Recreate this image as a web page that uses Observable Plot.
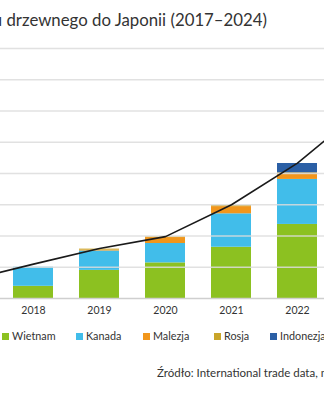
<!DOCTYPE html>
<html>
<head>
<meta charset="utf-8">
<script src="https://cdn.jsdelivr.net/npm/d3@7"></script>
<script src="https://cdn.jsdelivr.net/npm/@observablehq/plot@0.6"></script>
<style>
  html, body { margin: 0; padding: 0; background: #fff; }
  #wrap { position: relative; width: 324px; height: 400px; overflow: hidden; font-family: Lato, "Open Sans", sans-serif; color: #333; }
  #title { position: absolute; top: 9px; right: 57px; white-space: nowrap; font-size: 16.8px; color: #333; }
  #chart { position: absolute; top: 40px; left: -83px; width: 562px; }
  #chart svg { max-width: none !important; display: block; }
  #legend { position: absolute; top: 329px; left: 0; width: 324px; height: 16px; white-space: nowrap; font-size: 10.8px; color: #333; }
  #legend .item { position: absolute; top: 0; }
  #legend span.sw { display: inline-block; width: 7px; height: 7px; margin-right: 3px; vertical-align: 0px; }
  #source { position: absolute; top: 366px; left: 157px; white-space: nowrap; font-size: 11.5px; color: #333; }
</style>
</head>
<body>
<div id="wrap">
  <div id="title">Import pelletu drzewnego do Japonii (2017–2024)</div>
  <div id="chart"></div>
  <div id="legend"></div>
  <div id="source">Źródło: International trade data, market analysis</div>
</div>
<script>
const years = [2017, 2018, 2019, 2020, 2021, 2022, 2023, 2024];
const barYears = [2018, 2019, 2020, 2021, 2022];
const seriesNames = ["Wietnam", "Kanada", "Malezja", "Rosja", "Indonezja"];
const seriesColors = ["#8cc121", "#41bdea", "#f1961c", "#c9a52a", "#2b5fa5"];
const wietnam   = [39, 90, 114, 164, 237];
const kanada    = [61, 62, 62, 107, 144];
const malezja   = [0, 3, 19, 23, 17];
const rosja     = [0, 3, 2, 3, 4];
const indonezja = [0, 0, 0, 0, 30];
const lineYears = [2017, 2018, 2019, 2020, 2021, 2022, 2023];
const totals    = [58, 110, 160, 198, 300, 433, 608];
const gridTicks = [100, 200, 300, 400, 500, 600, 700, 800];

const seriesValues = [wietnam, kanada, malezja, rosja, indonezja];
const bars = [];
seriesNames.forEach((s, si) => {
  barYears.forEach((yr, i) => bars.push({year: yr, country: s, value: seriesValues[si][i]}));
});
const lineData = lineYears.map((yr, i) => ({year: yr, value: totals[i]}));

const chart = Plot.plot({
  width: 562,
  height: 280,
  marginLeft: 0,
  marginRight: 0,
  marginTop: 8,
  marginBottom: 22,
  style: {fontFamily: "Lato, 'Open Sans', sans-serif", fontSize: "10.5px", color: "#333", background: "transparent", maxWidth: "none"},
  x: {domain: years, padding: 0.39, label: null, tickSize: 0, tickPadding: 8, tickFormat: d => String(d)},
  y: {domain: [0, 800], axis: null},
  color: {domain: seriesNames, range: seriesColors},
  marks: [
    Plot.barY(bars, {x: "year", y: "value", fill: "country"}),
    Plot.ruleY(gridTicks, {stroke: "#dcdcdc", strokeWidth: 1.5, strokeOpacity: 0.85}),
    Plot.ruleY([0], {stroke: "#cfcfcf", strokeWidth: 1.5}),
    Plot.lineY(lineData, {x: "year", y: "value", stroke: "#1a1a1a", strokeWidth: 1.6})
  ]
});
document.getElementById("chart").appendChild(chart);

const legendLefts = [2, 76, 143, 214, 270];
const legend = document.getElementById("legend");
seriesNames.forEach((s, i) => {
  const item = document.createElement("div");
  item.className = "item";
  item.style.left = legendLefts[i] + "px";
  const sw = document.createElement("span");
  sw.className = "sw";
  sw.style.background = seriesColors[i];
  item.appendChild(sw);
  item.appendChild(document.createTextNode(s));
  legend.appendChild(item);
});
</script>
</body>
</html>
